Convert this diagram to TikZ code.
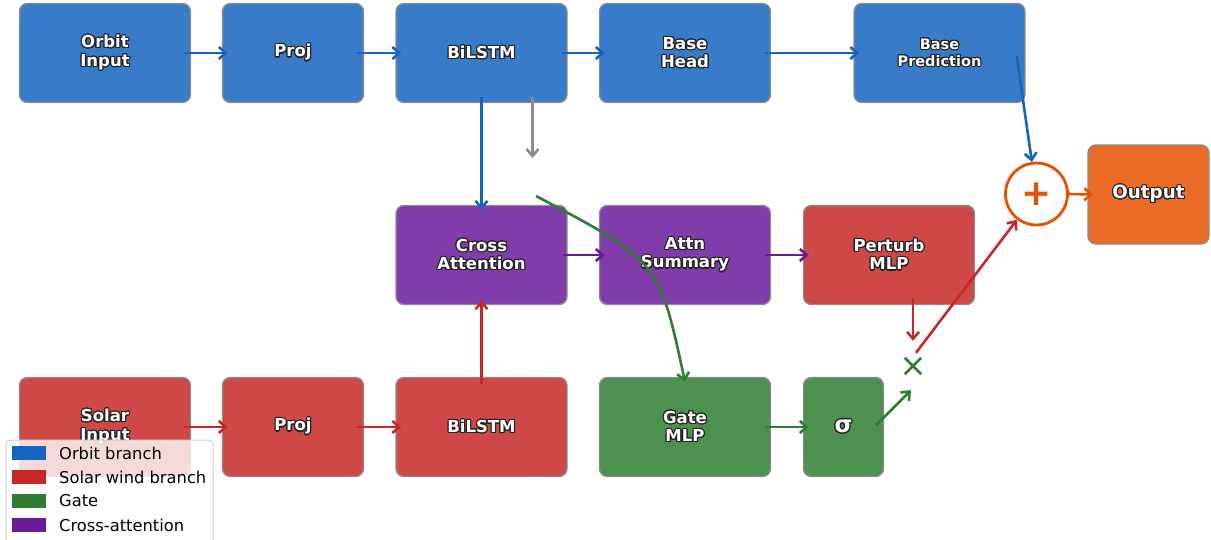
\documentclass[tikz,border=0pt]{standalone}
\usepackage{fontspec}
\setmainfont{DejaVu Sans}
\usepackage{contour}
\contourlength{1.1pt}
\usetikzlibrary{arrows.meta,calc}
\definecolor{cblue}{HTML}{1565C0}
\definecolor{cred}{HTML}{C62828}
\definecolor{cgreen}{HTML}{2E7D32}
\definecolor{cpurp}{HTML}{6A1B9A}
\definecolor{corng}{HTML}{E65100}
\definecolor{fblue}{HTML}{387CC9}
\definecolor{fred}{HTML}{CE4848}
\definecolor{fgreen}{HTML}{4D9050}
\definecolor{fpurp}{HTML}{803DA9}
\definecolor{forng}{HTML}{EA6B26}
\definecolor{cedge}{HTML}{8C8C8C}
\definecolor{ctxt}{HTML}{222222}
\newcommand\olt[1]{\contour{ctxt}{#1}}
\begin{document}
\begin{tikzpicture}[x=1pt,y=-1pt,
  box/.style={draw=cedge,line width=1.4pt,rounded corners=8pt,minimum width=171pt,minimum height=99pt,inner sep=0pt,align=center,text=white,font=\bfseries\fontsize{16.5}{18.5}\selectfont},
  narrow/.style={minimum width=141pt},
  sq/.style={minimum width=80pt},
  arr/.style={line width=2.6pt,-{Straight Barb[length=7pt,width=12pt,line width=2.6pt]}},
  ab/.style={arr,draw=cblue},
  ar/.style={arr,draw=cred},
  ag/.style={arr,draw=cgreen},
  ap/.style={arr,draw=cpurp},
  ay/.style={arr,draw=cedge},
  ao/.style={arr,draw=corng},
  legpatch/.style={minimum width=34pt,minimum height=13.5pt,inner sep=0pt},
  legtxt/.style={anchor=west,inner sep=0pt,font=\fontsize{16.3}{18}\selectfont,text=black}
]
\useasboundingbox (0,0) rectangle (1211,539);
% top row
\node[box,fill=fblue] (oi) at (105,53) {\olt{Orbit}\\\olt{Input}};
\node[box,narrow,fill=fblue] (pj1) at (293,53) {\olt{Proj}};
\node[box,fill=fblue] (bl1) at (481.5,53) {\olt{BiLSTM}};
\node[box,fill=fblue] (bh) at (685,53) {\olt{Base}\\\olt{Head}};
\node[box,fill=fblue,font=\bfseries\fontsize{14.5}{17}\selectfont] (bp) at (939.5,53) {\olt{Base}\\\olt{Prediction}};
% middle row
\node[box,fill=fpurp] (ca) at (481.5,255) {\olt{Cross}\\\olt{Attention}};
\node[box,fill=fpurp] (as) at (685,255) {\olt{Attn}\\\olt{Summary}};
\node[box,fill=fred] (pm) at (889,255) {\olt{Perturb}\\\olt{MLP}};
% bottom row
\node[box,fill=fred] (si) at (105,427) {\olt{Solar}\\\olt{Input}};
\node[box,narrow,fill=fred] (pj2) at (293,427) {\olt{Proj}};
\node[box,fill=fred] (bl2) at (481.5,427) {\olt{BiLSTM}};
\node[box,fill=fgreen] (gm) at (685,427) {\olt{Gate}\\\olt{MLP}};
\node[box,sq,fill=fgreen,font=\bfseries\fontsize{23}{24}\selectfont] (sg) at (843.5,427) {\olt{σ}};
% combine
\node[circle,draw=corng,line width=2.8pt,fill=white,minimum size=62pt,inner sep=0pt,text=corng,font=\bfseries\fontsize{36}{36}\selectfont] (plus) at (1036.5,194) {+};
\node[box,fill=forng,minimum width=121pt,font=\bfseries\fontsize{18.3}{20}\selectfont] (out) at (1148.5,194.5) {\olt{Output}};
\node[inner sep=0pt,minimum size=16pt] (mul) at (913,366) {};
\draw[cgreen,line width=2.6pt] (mul.north west) -- (mul.south east) (mul.north east) -- (mul.south west);
\coordinate (gray) at (532.5,158);
\coordinate (gstart) at (536,196);
% arrows top
\draw[ab] ($(oi.east)+(-7,0)$) -- ($(pj1.west)+(6,0)$);
\draw[ab] ($(pj1.east)+(-7,0)$) -- ($(bl1.west)+(6,0)$);
\draw[ab] ($(bl1.east)+(-6,0)$) -- ($(bh.west)+(6,0)$);
\draw[ab] ($(bh.east)+(-6,0)$) -- ($(bp.west)+(6,0)$);
\draw[ab] ($(bp.east)+(-9,3)$) -- (plus);
\draw[ab] ($(bl1.south)+(0,-6)$) -- ($(ca.north)+(0,5)$);
\draw[ay] ($(bl1.south)+(51,-6)$) -- (gray);
% middle
\draw[ap] ($(ca.east)+(-5,0)$) -- ($(as.west)+(6,0)$);
\draw[ap] ($(as.east)+(-6,0)$) -- ($(pm.west)+(6,0)$);
\draw[ar] ($(pm.south)+(24,-7)$) -- ($(mul.north)+(0,-17)$);
\draw[ar] ($(mul.north)+(3,-5)$) -- (plus);
% bottom
\draw[ar] ($(si.east)+(-7,0)$) -- ($(pj2.west)+(6,0)$);
\draw[ar] ($(pj2.east)+(-7,0)$) -- ($(bl2.west)+(6,0)$);
\draw[ar] ($(bl2.north)+(0,7)$) -- ($(ca.south)+(0,-5)$);
\draw[ag] ($(gm.east)+(-6,0)$) -- ($(sg.west)+(6,0)$);
\draw[ag] ($(sg.east)+(-8,-2)$) -- ($(mul.south)+(-2,16)$);
\draw[ag] (gstart) .. controls (659,261) .. ($(gm.north)+(0,5)$);
\draw[ao] (plus.east) -- ($(out.west)+(6,0)$);
% legend
\node[draw=black!18,line width=1pt,fill=white,fill opacity=0.8,rounded corners=4pt,minimum width=207pt,minimum height=110pt,inner sep=0pt] (leg) at (109.5,495) {};
\node[legpatch,fill=cblue] (l1) at (29,453) {};
\node[legpatch,fill=cred] (l2) at (29,477) {};
\node[legpatch,fill=cgreen] (l3) at (29,501) {};
\node[legpatch,fill=cpurp] (l4) at (29,525) {};
\node[legtxt] (t1) at (59,453) {Orbit branch};
\node[legtxt] (t2) at (59,477) {Solar wind branch};
\node[legtxt] (t3) at (59,501) {Gate};
\node[legtxt] (t4) at (59,525) {Cross-attention};
\end{tikzpicture}
\end{document}
